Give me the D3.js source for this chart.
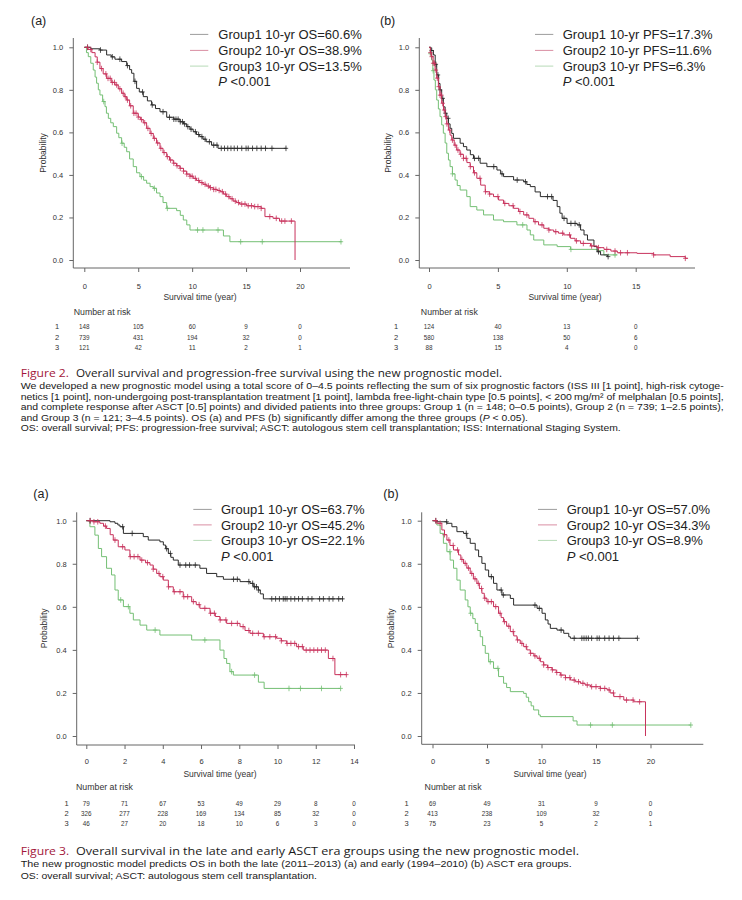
<!DOCTYPE html>
<html><head><meta charset="utf-8">
<script src="https://cdn.jsdelivr.net/npm/d3@7"></script>
<style>html,body{margin:0;padding:0;background:#fff;} svg{display:block;}</style>
</head><body>
<svg id="c" width="742" height="900"></svg>
<script>
// ================= DATA =================
const groups = ["1", "2", "3"];
const probTicks = [0, 0.2, 0.4, 0.6, 0.8, 1.0];

// ---- Figure 2 (a): OS ----
const f2aTicks = [0, 5, 10, 15, 20];
const f2aLegend = ["Group1 10-yr OS=60.6%", "Group2 10-yr OS=38.9%", "Group3 10-yr OS=13.5%"];
const f2aG1 = [[0,1],[0.6,0.993],[1.45,0.987],[2.07,0.964],[2.5,0.955],[2.84,0.944],[3.46,0.933],[3.93,0.914],[4.2,0.895],[4.39,0.878],[4.6,0.84],[4.85,0.807],[5.1,0.79],[5.47,0.768],[5.85,0.748],[6.24,0.729],[6.6,0.712],[7.02,0.697],[7.64,0.671],[8.3,0.662],[8.87,0.65],[9.2,0.64],[9.49,0.627],[9.8,0.615],[10.1,0.603],[10.4,0.59],[10.7,0.58],[11.0,0.568],[11.3,0.556],[11.8,0.54],[12.4,0.525],[18.76,0.525]];
const f2aG2 = [[0,1],[0.35,0.99],[0.7,0.975],[1.0,0.955],[1.2,0.93],[1.45,0.9],[1.75,0.875],[2.07,0.854],[2.5,0.835],[2.84,0.823],[3.15,0.805],[3.46,0.784],[3.7,0.768],[3.93,0.752],[4.2,0.725],[4.54,0.69],[5.0,0.672],[5.2,0.66],[5.47,0.645],[5.78,0.619],[6.1,0.595],[6.4,0.572],[6.7,0.55],[7.02,0.525],[7.3,0.505],[7.64,0.486],[7.9,0.47],[8.25,0.455],[8.55,0.443],[8.87,0.431],[9.2,0.418],[9.49,0.404],[9.8,0.394],[10.1,0.384],[10.4,0.374],[10.7,0.364],[11.0,0.356],[11.3,0.348],[11.6,0.34],[11.96,0.332],[12.3,0.327],[12.6,0.321],[12.9,0.31],[13.2,0.298],[13.5,0.288],[13.8,0.277],[14.1,0.27],[14.4,0.263],[15.05,0.255],[15.7,0.251],[16.4,0.243],[16.75,0.204],[17.5,0.196],[18.1,0.183],[19.54,0]];
const f2aG3 = [[0,1],[0.2,0.975],[0.37,0.956],[0.6,0.925],[0.83,0.893],[1.0,0.86],[1.14,0.831],[1.3,0.8],[1.45,0.776],[1.7,0.745],[1.92,0.721],[2.05,0.69],[2.23,0.666],[2.45,0.645],[2.69,0.627],[3.0,0.596],[3.2,0.575],[3.46,0.549],[3.7,0.53],[3.93,0.509],[4.2,0.475],[4.54,0.439],[4.85,0.41],[5.16,0.392],[5.5,0.375],[5.78,0.361],[6.1,0.345],[6.4,0.337],[6.7,0.315],[7.02,0.298],[7.3,0.27],[7.64,0.243],[8.56,0.232],[8.9,0.21],[9.18,0.188],[9.5,0.165],[9.8,0.141],[12.9,0.113],[13.5,0.086],[23.86,0.086]];
const f2aC1 = [0.3,1.5,2.6,3.3,4.0,4.7,5.4,6.3,7.3,7.9,8.3,8.5,8.7,8.9,9.1,9.3,9.6,9.9,10.3,10.6,10.9,11.2,11.6,12.0,12.3,12.7,13.0,13.3,13.6,13.9,14.2,14.6,15.0,15.2,15.6,16.0,16.4,16.8,17.4,18.7];
const f2aC2 = [0.3,0.6,1.2,1.6,2.0,2.2,2.4,2.6,2.8,3.0,3.3,3.6,3.8,4.0,4.3,4.6,4.8,5.0,5.3,5.6,5.9,6.2,6.5,6.8,7.1,7.4,7.7,8.0,8.3,8.6,8.9,9.2,9.5,9.8,10.0,10.3,10.6,10.9,11.2,11.5,11.7,12.0,12.2,12.5,12.8,13.1,13.4,13.7,14.0,14.3,14.6,14.9,15.2,15.5,15.8,16.1,16.4,17.2,17.8,18.3,18.6,19.2];
const f2aC3 = [1.8,3.5,5.3,6.5,7.7,10.5,11.0,12.4,14.5,16.5,23.8];
const f2aRisk1 = [148, 105, 60, 9, 0];
const f2aRisk2 = [739, 431, 194, 32, 0];
const f2aRisk3 = [121, 42, 11, 2, 1];

// ---- Figure 2 (b): PFS ----
const f2bTicks = [0, 5, 10, 15];
const f2bLegend = ["Group1 10-yr PFS=17.3%", "Group2 10-yr PFS=11.6%", "Group3 10-yr PFS=6.3%"];
const f2bG1 = [[0,1],[0.15,0.985],[0.32,0.964],[0.45,0.92],[0.56,0.87],[0.7,0.83],[0.8,0.8],[0.92,0.76],[1.04,0.72],[1.17,0.69],[1.29,0.666],[1.41,0.64],[1.53,0.619],[1.65,0.595],[1.77,0.572],[2.26,0.549],[2.5,0.533],[2.74,0.517],[3.0,0.495],[3.23,0.478],[3.71,0.455],[4.2,0.439],[4.93,0.423],[5.2,0.405],[5.41,0.392],[6.14,0.376],[6.87,0.368],[7.1,0.355],[7.35,0.345],[7.7,0.32],[8.08,0.298],[9.0,0.28],[9.3,0.251],[9.5,0.22],[9.66,0.196],[10.02,0.172],[10.75,0.165],[11.0,0.141],[11.25,0.118],[11.5,0.094],[11.97,0.063],[12.2,0.039],[12.45,0.024],[12.94,0.016],[13.0,0.016]];
const f2bG2 = [[0,1],[0.1,0.975],[0.19,0.956],[0.3,0.925],[0.44,0.893],[0.56,0.855],[0.68,0.815],[0.8,0.775],[0.92,0.737],[1.05,0.705],[1.17,0.674],[1.29,0.64],[1.41,0.611],[1.53,0.587],[1.65,0.564],[1.83,0.54],[2.01,0.517],[2.25,0.497],[2.5,0.478],[2.75,0.458],[2.99,0.439],[3.23,0.41],[3.47,0.384],[3.75,0.352],[4.08,0.321],[4.38,0.31],[4.68,0.298],[5.05,0.282],[5.41,0.266],[5.8,0.255],[6.14,0.243],[6.5,0.228],[6.87,0.212],[7.25,0.196],[7.6,0.18],[7.95,0.165],[8.33,0.149],[8.7,0.141],[9.05,0.133],[9.4,0.126],[9.78,0.118],[10.27,0.102],[10.6,0.09],[11.0,0.078],[11.72,0.066],[12.2,0.058],[12.7,0.05],[13.2,0.042],[13.67,0.034],[15.1,0.031],[16.3,0.024],[17.5,0.016],[18.6,0.008],[18.8,0.008]];
const f2bG3 = [[0,1],[0.1,0.97],[0.19,0.94],[0.28,0.89],[0.36,0.846],[0.46,0.8],[0.56,0.752],[0.68,0.71],[0.8,0.674],[0.92,0.635],[1.04,0.596],[1.17,0.55],[1.29,0.502],[1.41,0.47],[1.53,0.439],[1.7,0.405],[1.89,0.376],[2.05,0.35],[2.26,0.329],[2.74,0.298],[2.99,0.251],[3.47,0.235],[3.96,0.212],[4.68,0.188],[5.41,0.18],[6.38,0.165],[7.11,0.141],[7.35,0.118],[7.6,0.094],[8.33,0.071],[9.3,0.063],[10.27,0.05],[12.2,0.044],[12.69,0.024],[13.67,0.024]];
const f2bC1 = [0.2,0.5,0.65,0.8,1.0,1.2,1.4,3.3,3.6,4.7,5.3,6.4,7.0,8.6,8.9,9.8,10.3,10.6,10.9,12.3,13.0];
const f2bC2 = [0.1,0.2,0.3,0.4,0.5,0.6,0.7,0.8,0.9,1.0,1.1,1.2,1.3,1.5,1.7,1.9,2.1,2.3,2.5,2.7,3.0,3.3,3.7,4.1,4.4,5.0,5.5,6.1,6.6,7.1,7.7,8.2,8.7,9.2,9.7,10.2,10.7,11.2,11.8,12.3,12.9,13.5,13.9,14.4,16.3,18.6];
const f2bC3 = [0.1,0.3,1.7,6.8,10.3,13.5];
const f2bRisk1 = [124, 40, 13, 0];
const f2bRisk2 = [580, 138, 50, 6];
const f2bRisk3 = [88, 15, 4, 0];

// ---- Figure 3 (a): late ASCT era OS ----
const f3aTicks = [0, 2, 4, 6, 8, 10, 12, 14];
const f3aLegend = ["Group1 10-yr OS=63.7%", "Group2 10-yr OS=45.2%", "Group3 10-yr OS=22.1%"];
const f3aG1 = [[0,1],[1.24,0.995],[1.5,0.988],[1.65,0.98],[1.76,0.972],[1.94,0.941],[2.98,0.926],[3.24,0.91],[3.85,0.902],[4.03,0.887],[4.15,0.87],[4.29,0.848],[4.42,0.83],[4.55,0.817],[4.81,0.794],[5.94,0.779],[6.29,0.755],[6.82,0.74],[7.17,0.728],[8.04,0.717],[8.56,0.709],[8.73,0.693],[9.0,0.678],[9.1,0.66],[9.26,0.637],[13.44,0.637]];
const f3aG2 = [[0,1],[0.37,0.995],[0.71,0.988],[0.9,0.975],[1.06,0.964],[1.25,0.935],[1.41,0.91],[1.67,0.879],[2.02,0.864],[2.28,0.833],[2.81,0.817],[3.1,0.805],[3.33,0.794],[3.5,0.775],[3.68,0.755],[3.85,0.74],[4.03,0.724],[4.29,0.693],[4.55,0.67],[5.07,0.647],[5.51,0.624],[5.75,0.61],[5.94,0.593],[6.47,0.57],[6.75,0.555],[6.99,0.539],[7.34,0.523],[8.04,0.508],[8.3,0.49],[8.56,0.477],[9.26,0.461],[9.95,0.454],[10.2,0.442],[10.48,0.43],[11.0,0.415],[11.35,0.399],[12.66,0.36],[13.0,0.285],[13.6,0.285]];
const f3aG3 = [[0,1],[0.19,0.972],[0.45,0.933],[0.63,0.871],[0.8,0.833],[1.06,0.779],[1.32,0.748],[1.5,0.678],[1.67,0.632],[1.94,0.601],[2.28,0.57],[2.46,0.539],[2.81,0.515],[3.16,0.492],[3.85,0.469],[5.51,0.446],[6.99,0.399],[7.2,0.36],[7.34,0.337],[7.51,0.299],[7.69,0.283],[9.0,0.25],[9.3,0.221],[13.27,0.221]];
const f3aC1 = [0.2,1.9,2.4,4.2,4.4,4.9,5.2,5.4,5.7,7.7,7.9,8.5,8.7,8.8,8.9,9.0,9.7,9.9,10.1,10.3,10.4,10.5,10.7,10.9,11.1,11.3,11.6,11.8,12.2,12.4,12.7,12.9,13.2,13.4];
const f3aC2 = [0.2,0.4,0.6,1.0,1.5,1.9,2.3,2.5,2.7,2.9,3.2,3.5,3.8,4.0,4.3,4.6,4.9,5.1,5.3,5.6,5.9,6.2,6.5,6.7,7.0,7.3,7.6,7.9,8.2,8.5,8.7,9.0,9.3,9.6,9.9,10.2,10.5,10.7,10.9,11.1,11.3,11.5,11.7,11.9,12.1,12.3,12.5,12.9,13.3,13.6];
const f3aC3 = [1.8,2.2,3.6,6.2,7.6,8.8,10.6,11.2,12.3,13.3];
const f3aRisk1 = [79, 71, 67, 53, 49, 29, 8, 0];
const f3aRisk2 = [326, 277, 228, 169, 134, 85, 32, 0];
const f3aRisk3 = [46, 27, 20, 18, 10, 6, 3, 0];

// ---- Figure 3 (b): early ASCT era OS ----
const f3bTicks = [0, 5, 10, 15, 20];
const f3bLegend = ["Group1 10-yr OS=57.0%", "Group2 10-yr OS=34.3%", "Group3 10-yr OS=8.9%"];
const f3bG1 = [[0,1],[0.4,0.995],[1.32,0.988],[1.78,0.972],[2.24,0.949],[2.85,0.941],[3.15,0.918],[3.46,0.895],[3.92,0.864],[4.23,0.833],[4.53,0.802],[4.84,0.771],[5.15,0.74],[5.6,0.709],[5.91,0.678],[6.37,0.655],[7.14,0.639],[7.44,0.608],[9.59,0.593],[10.05,0.57],[10.35,0.539],[10.6,0.52],[10.81,0.5],[11.42,0.492],[12.04,0.477],[12.5,0.461],[12.65,0.454],[18.77,0.454]];
const f3bG2 = [[0,1],[0.4,0.988],[0.86,0.957],[1.1,0.935],[1.32,0.91],[1.6,0.885],[1.93,0.864],[2.39,0.841],[2.6,0.82],[2.85,0.802],[3.15,0.78],[3.46,0.755],[3.75,0.73],[4.07,0.709],[4.3,0.685],[4.53,0.663],[4.75,0.64],[4.99,0.624],[5.6,0.601],[6.06,0.57],[6.3,0.55],[6.52,0.531],[6.8,0.51],[7.14,0.485],[7.45,0.465],[7.75,0.446],[8.05,0.43],[8.36,0.415],[8.65,0.4],[8.97,0.384],[9.3,0.372],[9.59,0.361],[9.9,0.345],[10.2,0.33],[10.55,0.318],[10.96,0.307],[11.35,0.295],[11.73,0.283],[12.2,0.271],[12.65,0.26],[13.1,0.252],[13.57,0.245],[14.0,0.237],[14.49,0.229],[15.4,0.221],[16.02,0.214],[16.3,0.2],[16.63,0.183],[17.55,0.167],[18.47,0.159],[19.54,0]];
const f3bG3 = [[0,1],[0.4,0.98],[0.7,0.941],[1.0,0.895],[1.32,0.856],[1.62,0.817],[1.93,0.779],[2.24,0.724],[2.54,0.678],[3.0,0.632],[3.25,0.6],[3.46,0.57],[3.7,0.545],[3.92,0.523],[4.15,0.49],[4.38,0.461],[4.6,0.42],[4.84,0.384],[5.15,0.345],[5.6,0.314],[6.06,0.276],[6.52,0.245],[6.8,0.225],[7.14,0.206],[8.36,0.198],[8.6,0.18],[8.82,0.159],[9.05,0.14],[9.28,0.121],[9.74,0.098],[9.89,0.09],[12.9,0.07],[13.26,0.051],[23.68,0.051]];
const f3bC1 = [0.3,1.3,3.1,5.4,6.3,6.5,9.4,9.8,11.8,13.0,13.7,13.9,14.1,14.3,14.6,15.1,15.3,15.8,16.2,16.6,17.1,18.8];
const f3bC2 = [0.3,0.7,1.1,1.5,1.9,2.3,2.7,3.0,3.3,3.6,3.9,4.2,4.5,4.8,5.1,5.4,5.8,6.2,6.6,7.0,7.4,7.8,8.2,8.6,9.0,9.4,9.8,10.2,10.6,11.0,11.4,11.8,12.2,12.6,13.0,13.4,13.8,14.2,14.6,15.0,15.4,15.8,16.2,16.6,17.2,17.8,18.4,19.0];
const f3bC3 = [1.6,3.5,5.3,6.0,14.5,16.5,23.7];
const f3bRisk1 = [69, 49, 31, 9, 0];
const f3bRisk2 = [413, 238, 109, 32, 0];
const f3bRisk3 = [75, 23, 5, 2, 1];

// ---- Captions ----
const fig2Title = ["Figure 2.", "Overall survival and progression-free survival using the new prognostic model."];
const fig2Body = [
  "We developed a new prognostic model using a total score of 0\u20134.5 points reflecting the sum of six prognostic factors (ISS III [1 point], high-risk cytoge-",
  "netics [1 point], non-undergoing post-transplantation treatment [1 point], lambda free-light-chain type [0.5 points], < 200\u2009mg/m\u00B2 of melphalan [0.5 points],",
  "and complete response after ASCT [0.5] points) and divided patients into three groups: Group 1 (n = 148; 0\u20130.5 points), Group 2 (n = 739; 1\u20132.5 points),",
  "and Group 3 (n = 121; 3\u20134.5 points). OS (a) and PFS (b) significantly differ among the three groups (|P| < 0.05).",
  "OS: overall survival; PFS: progression-free survival; ASCT: autologous stem cell transplantation; ISS: International Staging System."
];
const fig3Title = ["Figure 3.", "Overall survival in the late and early ASCT era groups using the new prognostic model."];
const fig3Body = [
  "The new prognostic model predicts OS in both the late (2011\u20132013) (a) and early (1994\u20132010) (b) ASCT era groups.",
  "OS: overall survival; ASCT: autologous stem cell transplantation."
];

// ================= STYLE / LAYOUT =================
const FONT = "'Liberation Sans', Arial, Helvetica, sans-serif";
const CAPFONT = "'Open Sans', 'Noto Sans', sans-serif";
const BODYFONT = "'Liberation Sans', Arial, sans-serif";
const curveColors = ["#2a2a2a", "#c8325c", "#74bf74"];
const legendColors = ["#9c9c9c", "#d98ea3", "#b7dbb7"];

const panels = [
  {label:"(a)", lx:31, ly:24.5, ax:73.3, ay:268, yTop:38, xRight:350, xr:[84.3,300], yr:[260,47.3],
   ticks:f2aTicks, legend:f2aLegend, curves:[f2aG1,f2aG2,f2aG3], cens:[f2aC1,f2aC2,f2aC3],
   risk:[f2aRisk1,f2aRisk2,f2aRisk3], legL:[190,208.3], legT:218.3, legB:[39,55,70.7,85.5],
   tickBase:288.7, titleX:200, titleBase:300, probX:45.5, probY:153,
   nX:73.7, nY:314.5, rowX:57, rowY:[328.5,339.5,349.5]},
  {label:"(b)", lx:380, ly:24.5, ax:419.3, ay:268, yTop:38, xRight:695, xr:[429,635.7], yr:[260,47.3],
   ticks:f2bTicks, legend:f2bLegend, curves:[f2bG1,f2bG2,f2bG3], cens:[f2bC1,f2bC2,f2bC3],
   risk:[f2bRisk1,f2bRisk2,f2bRisk3], legL:[535,553.3], legT:562.7, legB:[39,55,70.7,85.5],
   tickBase:288.7, titleX:565, titleBase:300, probX:391, probY:153,
   nX:420.8, nY:314.5, rowX:396, rowY:[328.5,339.5,349.5]},
  {label:"(a)", lx:33.3, ly:498, ax:76.7, ay:745, yTop:512.3, xRight:355, xr:[86.3,354], yr:[736,520.7],
   ticks:f3aTicks, legend:f3aLegend, curves:[f3aG1,f3aG2,f3aG3], cens:[f3aC1,f3aC2,f3aC3],
   risk:[f3aRisk1,f3aRisk2,f3aRisk3], legL:[193.3,211.7], legT:221, legB:[514,529.5,545,560.5],
   tickBase:764.4, titleX:220, titleBase:777, probX:46.8, probY:628.3,
   nX:76, nY:790, rowX:66.6, rowY:[805.5,816,826]},
  {label:"(b)", lx:383.3, ly:498, ax:421.7, ay:744.3, yTop:512.3, xRight:703.3, xr:[432.5,650.5], yr:[736,520.7],
   ticks:f3bTicks, legend:f3bLegend, curves:[f3bG1,f3bG2,f3bG3], cens:[f3bC1,f3bC2,f3bC3],
   risk:[f3bRisk1,f3bRisk2,f3bRisk3], legL:[538,557], legT:566.7, legB:[514,529.5,545,560.5],
   tickBase:764.4, titleX:550, titleBase:777, probX:393.5, probY:628.3,
   nX:424.6, nY:790, rowX:406.6, rowY:[805.5,816,826]}
];

const svg = d3.select("#c");
svg.append("rect").attr("width",742).attr("height",900).attr("fill","#fff");

function survAt(curve, t) {
  let s = curve[0][1];
  for (const p of curve) { if (p[0] <= t) s = p[1]; else break; }
  return s;
}

panels.forEach(p => {
  const g = svg.append("g");
  const tMax = p.ticks[p.ticks.length - 1];
  const x = d3.scaleLinear().domain([0, tMax]).range(p.xr);
  const y = d3.scaleLinear().domain([0, 1]).range(p.yr);

  g.append("text").attr("x", p.lx).attr("y", p.ly).text(p.label)
    .attr("font-family", FONT).attr("font-size", 12.5).attr("fill", "#222");

  g.append("line").attr("x1", p.ax).attr("x2", p.ax).attr("y1", p.yTop).attr("y2", p.ay)
    .attr("stroke", "#666").attr("stroke-width", 1);
  g.append("line").attr("x1", p.ax).attr("x2", p.xRight).attr("y1", p.ay).attr("y2", p.ay)
    .attr("stroke", "#666").attr("stroke-width", 1);

  const xa = g.append("g").attr("transform", `translate(0,${p.ay})`)
    .call(d3.axisBottom(x).tickValues(p.ticks).tickSize(4).tickPadding(p.tickBase - p.ay - 4 - 5.3).tickFormat(d3.format("d")));
  xa.select(".domain").remove();
  xa.selectAll("line").attr("stroke", "#666");
  xa.selectAll("text").attr("font-family", FONT).attr("font-size", 7.5).attr("fill", "#333");

  const ya = g.append("g").attr("transform", `translate(${p.ax},0)`)
    .call(d3.axisLeft(y).tickValues(probTicks).tickSize(4).tickPadding(6).tickFormat(d3.format(".1f")));
  ya.select(".domain").remove();
  ya.selectAll("line").attr("stroke", "#666");
  ya.selectAll("text").attr("font-family", FONT).attr("font-size", 7.5).attr("fill", "#333");

  g.append("text").attr("x", p.titleX).attr("y", p.titleBase).attr("text-anchor", "middle")
    .attr("font-family", FONT).attr("font-size", 8.5).attr("fill", "#333").text("Survival time (year)");
  g.append("text").attr("transform", `translate(${p.probX},${p.probY}) rotate(-90)`).attr("text-anchor", "middle")
    .attr("font-family", FONT).attr("font-size", 8.5).attr("fill", "#333").text("Probability");

  const line = d3.line().x(d => x(d[0])).y(d => y(d[1])).curve(d3.curveStepAfter);
  [2, 0, 1].forEach(i => {
    g.append("path").datum(p.curves[i]).attr("d", line).attr("fill", "none")
      .attr("stroke", curveColors[i]).attr("stroke-width", 1);
    const cg = g.append("g").attr("stroke", curveColors[i]).attr("stroke-width", 0.8);
    p.cens[i].forEach(t => {
      const cx = x(t), cy = y(survAt(p.curves[i], t));
      cg.append("line").attr("x1", cx).attr("x2", cx).attr("y1", cy - 2.8).attr("y2", cy + 2.8);
      cg.append("line").attr("x1", cx - 2.2).attr("x2", cx + 2.2).attr("y1", cy).attr("y2", cy);
    });
  });

  p.legend.forEach((lab, i) => {
    const b = p.legB[i];
    g.append("line").attr("x1", p.legL[0]).attr("x2", p.legL[1]).attr("y1", b - 4.6).attr("y2", b - 4.6)
      .attr("stroke", legendColors[i]).attr("stroke-width", 1);
    g.append("text").attr("x", p.legT).attr("y", b).attr("font-family", FONT).attr("font-size", 13)
      .attr("fill", "#222").text(lab);
  });
  const pt = g.append("text").attr("x", p.legT).attr("y", p.legB[3]).attr("font-family", FONT)
    .attr("font-size", 13).attr("fill", "#222");
  pt.append("tspan").attr("font-style", "italic").text("P");
  pt.append("tspan").text(" <0.001");

  g.append("text").attr("x", p.nX).attr("y", p.nY).attr("font-family", FONT).attr("font-size", 8.3)
    .attr("fill", "#333").attr("textLength", 57).attr("lengthAdjust", "spacingAndGlyphs").text("Number at risk");
  p.risk.forEach((row, gi) => {
    g.append("text").attr("x", p.rowX).attr("y", p.rowY[gi]).attr("text-anchor", "middle")
      .attr("font-family", FONT).attr("font-size", 7.5).attr("fill", "#333").text(groups[gi]);
    row.forEach((v, k) => {
      const s = String(v);
      g.append("text").attr("x", x(p.ticks[k])).attr("y", p.rowY[gi]).attr("text-anchor", "middle")
        .attr("font-family", FONT).attr("font-size", 7.5).attr("fill", "#333")
        .attr("textLength", s.length * 3.5).attr("lengthAdjust", "spacingAndGlyphs").text(s);
    });
  });
});

// ================= CAPTIONS =================
function capLine(txt, x0, base, len, size, color, fam) {
  const t = svg.append("text").attr("x", x0).attr("y", base).attr("font-family", fam)
    .attr("font-size", size).attr("fill", color).attr("textLength", len).attr("lengthAdjust", "spacingAndGlyphs");
  txt.split("|").forEach((s, i) => {
    const ts = t.append("tspan").text(s);
    if (i % 2 === 1) ts.attr("font-style", "italic");
  });
  return t;
}
const RED = "#a3173b";
capLine(fig2Title[0], 20.7, 377.3, 48.3, 11.5, RED, CAPFONT);
capLine(fig2Title[1], 76, 377.3, 426, 11.5, "#1a1a1a", CAPFONT);
const f2Bases = [389, 399.5, 410, 420.7, 431.3];
const f2Lens = [703, 703, 703, 507.3, 600];
fig2Body.forEach((s, i) => capLine(s, 20.7, f2Bases[i], f2Lens[i], 8.8, "#1a1a1a", BODYFONT));

capLine(fig3Title[0], 20.7, 855, 48.6, 11.5, RED, CAPFONT);
capLine(fig3Title[1], 76, 855, 503, 11.5, "#1a1a1a", CAPFONT);
const f3Bases = [866.7, 879.3];
const f3Lens = [551, 296.3];
fig3Body.forEach((s, i) => capLine(s, 20.7, f3Bases[i], f3Lens[i], 8.8, "#1a1a1a", BODYFONT));
</script>
</body></html>
